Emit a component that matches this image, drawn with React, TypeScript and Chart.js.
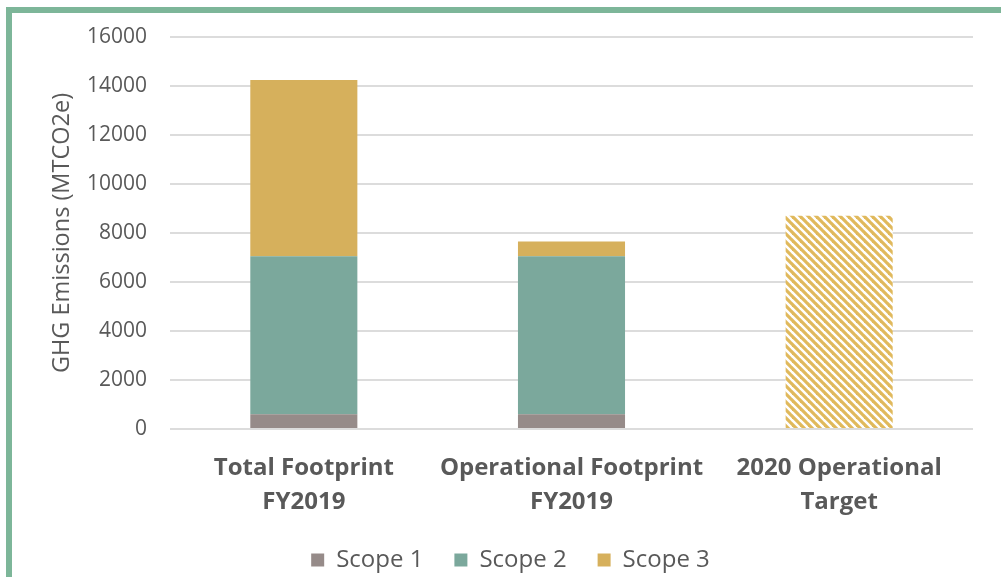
import React, { useEffect, useRef } from "react";
import { Chart, registerables } from "chart.js";

Chart.register(...registerables);

const categories: string[][] = [
  ["Total Footprint", "FY2019"],
  ["Operational Footprint", "FY2019"],
  ["2020 Operational", "Target"],
];
const scope1: (number | null)[] = [600, 600, null];
const scope2: (number | null)[] = [6450, 6450, null];
const scope3: (number | null)[] = [7200, 600, null];
const target: (number | null)[] = [null, null, 8700];
const yTicks: number[] = [0, 2000, 4000, 6000, 8000, 10000, 12000, 14000, 16000];

const FONT = "'Open Sans', sans-serif";
const TEXT = "#595959";

function makeHatch(): CanvasPattern | string {
  const c = document.createElement("canvas");
  c.width = 8;
  c.height = 8;
  const ctx = c.getContext("2d");
  if (!ctx) return "#e0b95c";
  ctx.fillStyle = "#ffffff";
  ctx.fillRect(0, 0, 8, 8);
  ctx.strokeStyle = "#e0b95c";
  ctx.lineWidth = 3.2;
  for (const k of [-8, 0, 8]) {
    ctx.beginPath();
    ctx.moveTo(k - 2, -2);
    ctx.lineTo(k + 10, 10);
    ctx.stroke();
  }
  const p = ctx.createPattern(c, "repeat");
  return p || "#e0b95c";
}

export default function App() {
  const ref = useRef<HTMLCanvasElement | null>(null);
  useEffect(() => {
    if (!ref.current) return;
    const chart = new Chart(ref.current, {
      type: "bar",
      data: {
        labels: categories,
        datasets: [
          { label: "Scope 1", data: scope1, backgroundColor: "#968b89", stack: "s" },
          { label: "Scope 2", data: scope2, backgroundColor: "#7ba89c", stack: "s" },
          { label: "Scope 3", data: scope3, backgroundColor: "#d6b05c", stack: "s" },
          { label: "Target", data: target, backgroundColor: makeHatch() as any, stack: "s" },
        ],
      },
      options: {
        animation: false,
        responsive: false,
        maintainAspectRatio: false,
        layout: { padding: { left: 48, right: 28, top: 37, bottom: 0 } },
        datasets: { bar: { categoryPercentage: 1, barPercentage: 0.4 } },
        plugins: {
          tooltip: { enabled: false },
          legend: {
            position: "bottom",
            labels: {
              filter: (item: any) => item.datasetIndex !== 3,
              boxWidth: 13,
              boxHeight: 13,
              padding: 31,
              color: TEXT,
              font: { family: FONT, size: 24 },
            },
          },
        },
        scales: {
          x: {
            stacked: true,
            grid: { display: false },
            border: { display: false },
            afterFit: (scale: any) => {
              scale.height = 88;
              scale.paddingLeft = 0;
              scale.paddingRight = 0;
            },
            ticks: {
              color: TEXT,
              font: { family: FONT, size: 24, weight: "bold", lineHeight: 1.42 },
              padding: 14,
              maxRotation: 0,
              autoSkip: false,
            },
          },
          y: {
            stacked: true,
            min: 0,
            max: 16000,
            afterBuildTicks: (axis: any) => {
              axis.ticks = yTicks.map((v) => ({ value: v }));
            },
            afterFit: (scale: any) => {
              scale.width = 122;
              scale.paddingTop = 0;
              scale.paddingBottom = 0;
            },
            grid: { color: "#dcdcdc", lineWidth: 2, drawTicks: false },
            border: { display: false },
            ticks: {
              color: TEXT,
              font: { family: FONT, size: 21 },
              padding: 23,
              callback: (v: any) => String(v),
            },
            title: {
              display: true,
              text: "GHG Emissions (MTCO2e)",
              color: TEXT,
              font: { family: FONT, size: 23.5 },
              padding: { top: 0, bottom: 10 },
            },
          },
        },
      },
    });
    return () => chart.destroy();
  }, []);
  return (
    <div
      style={{
        position: "fixed",
        left: 0,
        top: 0,
        width: 1001,
        height: 577,
        background: "#fff",
        overflow: "hidden",
      }}
    >
      <div
        style={{
          position: "absolute",
          left: 6,
          top: 7,
          right: 0,
          bottom: 0,
          borderLeft: "6px solid #7db699",
          borderTop: "6px solid #7db699",
        }}
      />
      <canvas ref={ref} width={1001} height={582} style={{ position: "absolute", left: 0, top: 0 }} />
    </div>
  );
}
